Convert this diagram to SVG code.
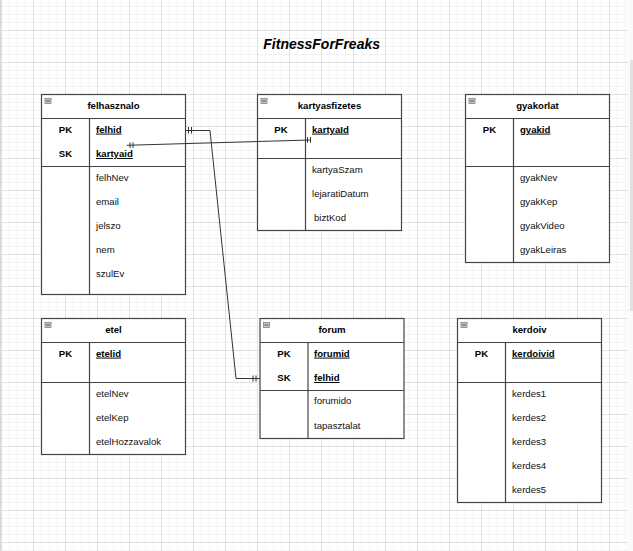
<svg xmlns="http://www.w3.org/2000/svg" width="633" height="551" viewBox="0 0 633 551">
<style>
text{font-family:"Liberation Sans",Arial,sans-serif;font-size:9.6px;fill:#111}
.h{font-weight:bold;text-anchor:middle;fill:#000}
.k{font-weight:bold;text-anchor:middle;fill:#000}
.pk{font-weight:bold;text-decoration:underline;fill:#000}
.box{fill:#fff;stroke:#444;stroke-width:1.2}
.ln{stroke:#444;stroke-width:1.2;fill:none}
.ic{fill:#c8c8c8;stroke:#808080;stroke-width:0.8}
.icm{stroke:#333;stroke-width:0.8}
.c{stroke:#333;stroke-width:1;fill:none}
.title{font-size:14px;font-weight:bold;font-style:italic;fill:#000}
</style>
<defs>
<pattern id="grid" patternUnits="userSpaceOnUse" x="1" y="-2" width="32" height="32">
<rect x="8" y="0" width="1" height="32" fill="#f3f3f3"/>
<rect x="16" y="0" width="1" height="32" fill="#f3f3f3"/>
<rect x="24" y="0" width="1" height="32" fill="#f3f3f3"/>
<rect x="0" y="8" width="32" height="1" fill="#f3f3f3"/>
<rect x="0" y="16" width="32" height="1" fill="#f3f3f3"/>
<rect x="0" y="24" width="32" height="1" fill="#f3f3f3"/>
<rect x="0" y="0" width="1" height="32" fill="#e0e0e0"/>
<rect x="0" y="0" width="32" height="1" fill="#e0e0e0"/>
</pattern>
</defs>
<rect x="0" y="0" width="633" height="551" fill="#fff"/>
<rect x="0" y="0" width="628" height="551" fill="url(#grid)"/>
<rect x="0" y="0" width="1" height="551" fill="#d8d8d8"/>
<rect x="628" y="0" width="5" height="551" fill="#fafafa"/>
<rect x="630" y="60" width="3" height="251" fill="#e2e2e2"/>

<text class="title" x="263.3" y="49">FitnessForFreaks</text>

<g id="felhasznalo">
<rect class="box" x="41.5" y="94.5" width="144" height="200"/>
<line class="ln" x1="41.5" y1="118.5" x2="185.5" y2="118.5"/>
<line class="ln" x1="41.5" y1="166.5" x2="185.5" y2="166.5"/>
<line class="ln" x1="89.5" y1="118.5" x2="89.5" y2="294.5"/>
<rect class="ic" x="45" y="98.5" width="6" height="5"/><line class="icm" x1="46" y1="101" x2="50" y2="101"/>
<text class="h" x="113.5" y="109">felhasznalo</text>
<text class="k" x="65.5" y="132.6">PK</text>
<text class="pk" x="96" y="132.6">felhid</text>
<text class="k" x="65.5" y="157">SK</text>
<text class="pk" x="96" y="157">kartyaid</text>
<text x="96" y="180.6">felhNev</text>
<text x="96" y="204.6">email</text>
<text x="96" y="228.6">jelszo</text>
<text x="96" y="252.6">nem</text>
<text x="96" y="276.6">szulEv</text>
</g>

<g id="kartyasfizetes">
<rect class="box" x="257.5" y="94.5" width="144" height="136"/>
<line class="ln" x1="257.5" y1="118.5" x2="401.5" y2="118.5"/>
<line class="ln" x1="257.5" y1="158.5" x2="401.5" y2="158.5"/>
<line class="ln" x1="305.5" y1="118.5" x2="305.5" y2="230.5"/>
<rect class="ic" x="261" y="98.5" width="6" height="5"/><line class="icm" x1="262" y1="101" x2="266" y2="101"/>
<text class="h" x="329.5" y="109">kartyasfizetes</text>
<text class="k" x="281" y="132.6">PK</text>
<text class="pk" x="312" y="132.6">kartyaId</text>
<text x="312" y="172.6">kartyaSzam</text>
<text x="312" y="196.6">lejaratiDatum</text>
<text x="314" y="220.6">biztKod</text>
</g>

<g id="gyakorlat">
<rect class="box" x="465.5" y="94.5" width="144" height="168"/>
<line class="ln" x1="465.5" y1="118.5" x2="609.5" y2="118.5"/>
<line class="ln" x1="465.5" y1="166.5" x2="609.5" y2="166.5"/>
<line class="ln" x1="513.5" y1="118.5" x2="513.5" y2="262.5"/>
<rect class="ic" x="469" y="98.5" width="6" height="5"/><line class="icm" x1="470" y1="101" x2="474" y2="101"/>
<text class="h" x="537.5" y="109">gyakorlat</text>
<text class="k" x="489.5" y="132.6">PK</text>
<text class="pk" x="520" y="132.6">gyakid</text>
<text x="520" y="180.6">gyakNev</text>
<text x="520" y="204.6">gyakKep</text>
<text x="520" y="228.6">gyakVideo</text>
<text x="520" y="252.6">gyakLeiras</text>
</g>

<g id="etel">
<rect class="box" x="41.5" y="318.5" width="144" height="136"/>
<line class="ln" x1="41.5" y1="342.5" x2="185.5" y2="342.5"/>
<line class="ln" x1="41.5" y1="382.5" x2="185.5" y2="382.5"/>
<line class="ln" x1="89.5" y1="342.5" x2="89.5" y2="454.5"/>
<rect class="ic" x="45" y="322.5" width="6" height="5"/><line class="icm" x1="46" y1="325" x2="50" y2="325"/>
<text class="h" x="113.5" y="333">etel</text>
<text class="k" x="65.5" y="356.6">PK</text>
<text class="pk" x="96" y="356.6">etelid</text>
<text x="96" y="396.6">etelNev</text>
<text x="96" y="420.6">etelKep</text>
<text x="96" y="444.6">etelHozzavalok</text>
</g>

<g id="forum">
<rect class="box" x="260" y="318.5" width="144" height="120"/>
<line class="ln" x1="260" y1="342.5" x2="404" y2="342.5"/>
<line class="ln" x1="260" y1="390.5" x2="404" y2="390.5"/>
<line class="ln" x1="308" y1="342.5" x2="308" y2="438.5"/>
<rect class="ic" x="263.5" y="322.5" width="6" height="5"/><line class="icm" x1="264.5" y1="325" x2="268.5" y2="325"/>
<text class="h" x="332" y="333">forum</text>
<text class="k" x="284" y="356.6">PK</text>
<text class="pk" x="314" y="356.6">forumid</text>
<text class="k" x="284" y="381">SK</text>
<text class="pk" x="314" y="381">felhid</text>
<text x="314" y="404.4">forumido</text>
<text x="314" y="428.6">tapasztalat</text>
</g>

<g id="kerdoiv">
<rect class="box" x="457.5" y="318.5" width="144" height="184"/>
<line class="ln" x1="457.5" y1="342.5" x2="601.5" y2="342.5"/>
<line class="ln" x1="457.5" y1="382.5" x2="601.5" y2="382.5"/>
<line class="ln" x1="505.5" y1="342.5" x2="505.5" y2="502.5"/>
<rect class="ic" x="461" y="322.5" width="6" height="5"/><line class="icm" x1="462" y1="325" x2="466" y2="325"/>
<text class="h" x="529.5" y="333">kerdoiv</text>
<text class="k" x="481.5" y="356.6">PK</text>
<text class="pk" x="512" y="356.6">kerdoivid</text>
<text x="512" y="396.6">kerdes1</text>
<text x="512" y="420.6">kerdes2</text>
<text x="512" y="444.6">kerdes3</text>
<text x="512" y="468.6">kerdes4</text>
<text x="512" y="492.6">kerdes5</text>
</g>

<g id="connectors">
<path class="c" d="M186,130.5 H210 L236,378.5 H260"/>
<path class="c" d="M188.5,127 V133.5 M191.5,127 V133.5"/>
<path class="c" d="M253,375.5 V381.5 M256,375.5 V381.5"/>
<path class="c" d="M126.7,145.3 L310,140"/>
<path class="c" d="M130,142.3 V148 M133,142.3 V148"/>
<path class="c" d="M307.5,137 V142.7 M310.5,137 V142.7"/>
</g>
</svg>
